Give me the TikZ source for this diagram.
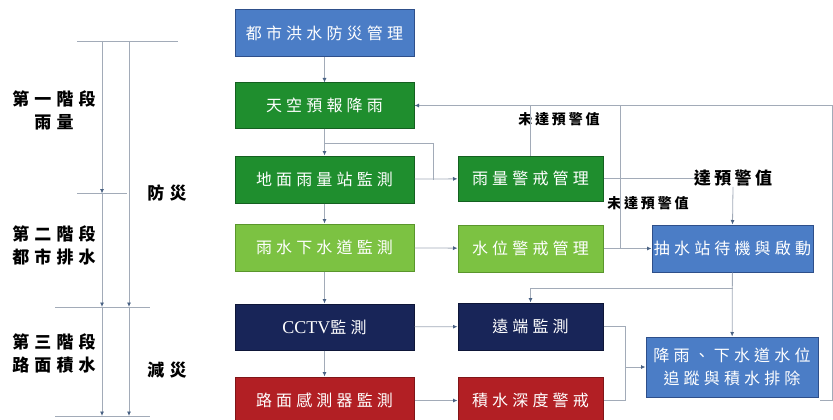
\documentclass[tikz,border=0pt]{standalone}
\usepackage{fontspec}
\setmainfont{Noto Sans CJK TC}
\newfontfamily\boxfont{Noto Sans CJK TC}[LetterSpace=26]
\newfontfamily\lblfont{Noto Sans CJK TC}[LetterSpace=20]
\newfontfamily\sidefont{Noto Sans CJK TC}[LetterSpace=30]
\newfontfamily\latinfont{Liberation Serif}
\usetikzlibrary{arrows.meta,calc}
\definecolor{cblue}{HTML}{4B7DC6}
\definecolor{cblueD}{HTML}{2E4F8A}
\definecolor{cgreen}{HTML}{1F8E2E}
\definecolor{cgreenD}{HTML}{146020}
\definecolor{clgreen}{HTML}{7CC242}
\definecolor{clgreenD}{HTML}{5A962C}
\definecolor{cnavy}{HTML}{182558}
\definecolor{cnavyD}{HTML}{0E1638}
\definecolor{cred}{HTML}{B21F24}
\definecolor{credD}{HTML}{801518}
\definecolor{cline}{HTML}{A2ABB8}
\definecolor{carrow}{HTML}{4A6284}
\begin{document}
\begin{tikzpicture}[x=1pt,y=-1pt,
  bx/.style={draw, line width=1pt, inner sep=0pt, text=white,
    font=\boxfont\fontsize{16}{20}\selectfont},
  colw/.style={minimum width=179pt},
  midw/.style={minimum width=145pt},
  conn/.style={draw=cline, line width=0.8pt},
  arr/.style={conn, -{Latex[length=4.5pt,width=4pt,color=carrow]}},
  lbl/.style={inner sep=0pt, text=black, font=\lblfont\bfseries\fontsize{14}{17}\selectfont},
  side/.style={inner sep=0pt, text=black, align=center,
    font=\sidefont\bfseries\fontsize{17}{23}\selectfont}
]
\useasboundingbox (0,0) rectangle (833,420);
\clip (0,0) rectangle (833,420);

% left column
\node[bx, colw, minimum height=47pt, fill=cblue, draw=cblueD] (A) at (324.5,33.5) {都市洪水防災管理};
\node[bx, colw, minimum height=45pt, fill=cgreen, draw=cgreenD] (B) at (324.5,105.5) {天空預報降雨};
\node[bx, colw, minimum height=47pt, fill=cgreen, draw=cgreenD] (C) at (324.5,179.5) {地面雨量站監測};
\node[bx, colw, minimum height=47pt, fill=clgreen, draw=clgreenD] (D) at (324.5,247.5) {雨水下水道監測};
\node[bx, colw, minimum height=46pt, fill=cnavy, draw=cnavyD] (E) at (324.5,327) {{\latinfont\fontsize{18}{20}\selectfont CCTV}監測};
\node[bx, colw, minimum height=47pt, fill=cred, draw=credD] (F) at (324.5,400.5) {路面感測器監測};

% middle column
\node[bx, midw, minimum height=45pt, fill=cgreen, draw=cgreenD] (G) at (530.5,178.5) {雨量警戒管理};
\node[bx, midw, minimum height=47pt, fill=clgreen, draw=clgreenD] (H) at (530.5,248.5) {水位警戒管理};
\node[bx, midw, minimum height=47pt, fill=cnavy, draw=cnavyD] (I) at (530.5,326.5) {遠端監測};
\node[bx, midw, minimum height=47pt, fill=cred, draw=credD] (J) at (530.5,400.5) {積水深度警戒};

% right column
\node[bx, minimum width=161pt, minimum height=47pt, fill=cblue, draw=cblueD] (K) at (732.5,248.5) {抽水站待機與啟動};
\node[bx, minimum width=172pt, minimum height=60pt, fill=cblue, draw=cblueD, align=center,
  font=\boxfont\fontsize{16}{23}\selectfont] (L) at (732,367) {降雨、下水道水位\\追蹤與積水排除};

% labels
\node[lbl] (n1) at (559,119) {未達預警值};
\node[lbl] (n2) at (648,203) {未達預警值};
\node[lbl, font=\lblfont\bfseries\fontsize{17}{20}\selectfont] (y1) at (733,178.5) {達預警值};

% left column connectors
\draw[arr] (A) -- (B);
\draw[arr] (B) -- (C);
\draw[arr] (C) -- (D);
\draw[arr] (D) -- (E);
\draw[arr] (E) -- (F);
\coordinate (j1) at (324.5,143);
\coordinate (j2) at (433,143);
\draw[conn] (j1) -- (j2) -- (j2 |- C.east);
\draw[arr] (C) -- (G);
\draw[arr] (D) -- (H);
\draw[arr] (E) -- (I);
\draw[arr] (F) -- (J);

% feedback lines to B
\draw[conn] (G.north) -- (G.north |- B.east);
\coordinate (v1) at (620,248.5);
\draw[conn] (v1) -- (v1 |- B.east);
\coordinate (r0) at (820,400.5);
\coordinate (r1) at (832,400.5);
\coordinate (r2) at (832,105.5);
\draw[arr] (r0) -- (r1) -- (r2) -- (B.east);

% to pumping station
\draw[arr] (H) -- (K);
\draw[conn] (G.east) -- (y1.west);
\draw[arr] (y1.south) -- (K.north);

% pumping station outputs
\draw[arr] (K) -- (L);
\coordinate (b1) at (732.5,288);
\draw[arr] (b1) -- (b1 -| I.north) -- (I.north);

% to tracking box
\coordinate (m1) at (625,326.5);
\coordinate (m2) at (625,400.5);
\coordinate (m3) at (625,367);
\draw[conn] (I.east) -- (m1) -- (m2) -- (J.east);
\draw[arr] (m3) -- (L.west);

% left timeline
\coordinate (t0a) at (77,41);   \coordinate (t0b) at (178,41);
\coordinate (t1a) at (77,193.5);\coordinate (t1b) at (127,193.5);
\coordinate (t2a) at (55,307);  \coordinate (t2b) at (150,307);
\coordinate (t3a) at (55,416);  \coordinate (t3b) at (150,416);
\draw[conn] (t0a) -- (t0b);
\draw[conn] (t1a) -- (t1b);
\draw[conn] (t2a) -- (t2b);
\draw[conn] (t3a) -- (t3b);
\coordinate (p0) at (102,41);  \coordinate (p1) at (102,193.5);
\coordinate (p2) at (102,307); \coordinate (p3) at (102,416);
\coordinate (q0) at (129,41);  \coordinate (q2) at (129,307);
\coordinate (q3) at (129,416);
\draw[arr] (p0) -- (p1);
\draw[arr] (p1) -- (p2);
\draw[arr] (p2) -- (p3);
\draw[arr] (q0) -- (q2);
\draw[arr] (q2) -- (q3);

\node[side] (s1) at (54,110) {第一階段\\雨量};
\node[side] (s2) at (54,245) {第二階段\\都市排水};
\node[side] (s3) at (54,353) {第三階段\\路面積水};
\node[side] (f1) at (167,193) {防災};
\node[side] (f2) at (167,370) {減災};
\end{tikzpicture}
\end{document}
